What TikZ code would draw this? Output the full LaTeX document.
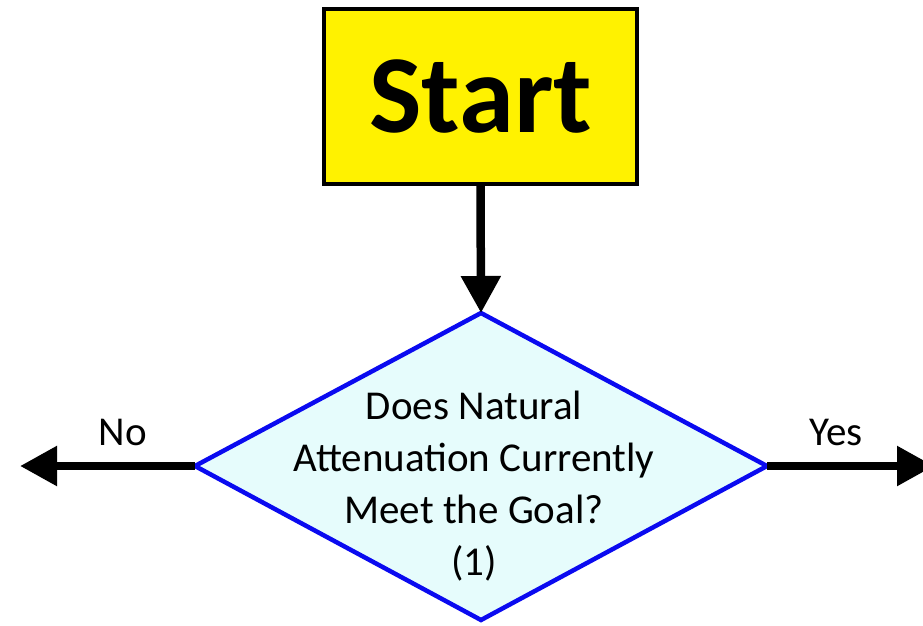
\documentclass[tikz,border=0pt]{standalone}
\usepackage{fontspec}
\setmainfont{Carlito}
\usetikzlibrary{arrows.meta,shapes.geometric}
\definecolor{startyellow}{HTML}{FFF200}
\definecolor{decisionfill}{HTML}{E6FCFC}
\definecolor{decisionblue}{HTML}{0A0AF0}
\tikzset{
  startbox/.style={draw=black, line width=4pt, fill=startyellow, inner sep=0pt,
    minimum width=313pt, minimum height=175pt,
    font=\fontsize{111}{111}\selectfont\bfseries},
  decision/.style={draw=decisionblue, line width=4.5pt, fill=decisionfill},
  flow/.style={line width=8.5pt, -{Triangle[length=37pt,width=38pt]}},
  branchlabel/.style={font=\fontsize{41}{41}\selectfont},
}
\begin{document}
\begin{tikzpicture}[x=1pt,y=-1pt]
  \useasboundingbox (0,0) rectangle (923,625);
  % start box
  \node[startbox] (start) at (480.5,96.5) {Start};
  % decision diamond drawn as a closed path
  \coordinate (dtop) at (481,313);
  \coordinate (dleft) at (195,466);
  \coordinate (dright) at (767,466);
  \coordinate (dbottom) at (481,620);
  \draw[decision, line join=miter] (dtop) -- (dright) -- (dbottom) -- (dleft) -- cycle;
  \node[align=center, font=\fontsize{41}{52}\selectfont] (question) at (474,486)
    {Does Natural\\Attenuation Currently\\Meet the Goal?\\(1)};
  % connectors
  \coordinate (noend) at (20,466);
  \coordinate (yesend) at (934,466);
  \draw[flow] (start.south) -- (dtop);
  \draw[flow] (dleft) -- (noend);
  \draw[flow] (dright) -- (yesend);
  % branch labels
  \node[branchlabel] (nolabel) at (123,432) {No};
  \node[branchlabel] (yeslabel) at (836,432) {Yes};
\end{tikzpicture}
\end{document}
